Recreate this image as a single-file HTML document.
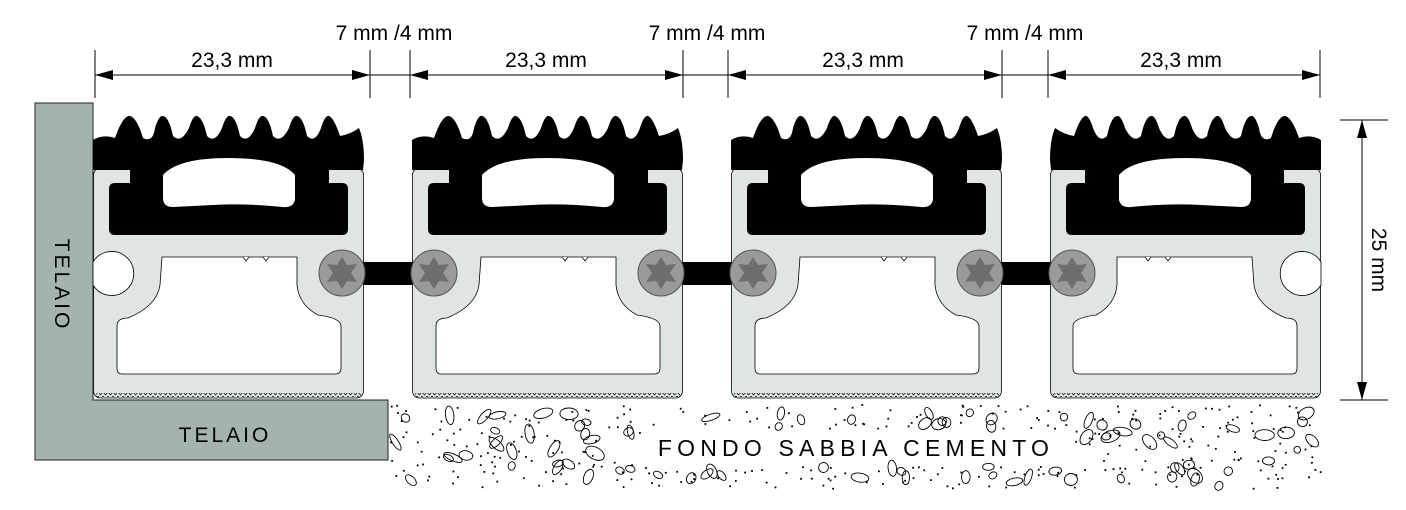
<!DOCTYPE html>
<html><head><meta charset="utf-8"><style>
html,body{margin:0;padding:0;background:#fff;}
svg{display:block;font-family:"Liberation Sans",Arial,sans-serif;}
</style></head><body>
<svg id="s" width="1406" height="510" viewBox="0 0 1406 510" xmlns="http://www.w3.org/2000/svg">
<defs>
  <pattern id="zig" width="5" height="4" patternUnits="userSpaceOnUse">
    <path d="M0 0 L2.5 3 L5 0" fill="none" stroke="#000" stroke-width="0.7"/>
  </pattern>
  <g id="prof">
    <rect x="0.5" y="168" width="270" height="230" rx="7" fill="#dfe6e1" stroke="#000" stroke-width="0.8"/>
    <rect x="3" y="393" width="265" height="4" fill="url(#zig)"/>
    <path d="M0 140 Q10 134 22 138 Q30 115 37 116 Q44 118 50 138 Q60 143 62 128 Q66 115 70 116 Q76 117 80 136 Q88 144 96 128 Q100 115 104 116 Q110 118 114 136 Q122 144 129 128 Q133 115 137 116 Q143 117 147 136 Q155 144 162 128 Q166 115 170 116 Q176 117 180 136 Q188 144 196 128 Q200 115 204 116 Q210 117 214 136 Q222 144 228 128 Q232 115 236 116 Q241 118 247 136 Q258 134 266 128 Q271 140 271 160 L270 170 L236 170 L236 183 L249 183 Q255 183 255 189 L255 229 Q255 235 249 235 L22 235 Q16 235 16 229 L16 189 Q16 183 22 183 L37 183 L37 170 L0 170 Z" fill="#000"/>
    <path d="M70 175 Q85 158 135 158 Q188 158 202 175 L202 200 Q200 208 190 207 Q150 203 120 205 L80 207 Q70 207 70 198 Z" fill="#fff"/>
    <path d="M69 257 L204 257 L204 285 Q206 305 225 315 Q248 318 248 326 L248 368 Q248 374 242 374 L29 374 Q24 374 24 368 L24 326 Q24 318 35 318 Q64 306 67 285 Z" fill="#fff" stroke="#000" stroke-width="0.8"/>
    <path d="M150 257 l3 4 l3 -4 M170 257 l3 4 l3 -4" fill="#fff" stroke="#000" stroke-width="0.8"/>
  </g>
  <g id="hole">
    <path d="M0 262 A22 22 0 1 1 0 285 Z" fill="#fff" stroke="#000" stroke-width="0.8"/>
  </g>
  <g id="screw">
    <circle cx="0" cy="273" r="23" fill="#9a9a9a" stroke="#555" stroke-width="1"/>
    <polygon points="0,257 5,265 15,264 9,273 15,282 5,281 0,289 -5,281 -15,282 -9,273 -15,264 -5,265" fill="#6e6e6e"/>
  </g>
</defs>

<g id="sand"></g>

<path d="M35 103 L93 103 L93 400 L388 400 L388 460 L35 460 Z" fill="#a5b3ae" stroke="#222" stroke-width="1"/>
<text x="225" y="442" font-size="21" text-anchor="middle" letter-spacing="3">TELAIO</text>
<text transform="translate(55,285) rotate(90)" font-size="21" text-anchor="middle" letter-spacing="3">TELAIO</text>

<rect x="362" y="262" width="52" height="23" fill="#000"/>
<rect x="681" y="262" width="52" height="23" fill="#000"/>
<rect x="999" y="262" width="54" height="23" fill="#000"/>

<g transform="translate(93,0)"><use href="#prof"/><use href="#hole" x="0"/><use href="#screw" x="249"/></g>
<g transform="translate(412,0)"><use href="#prof"/><use href="#screw" x="22"/><use href="#screw" x="249"/></g>
<g transform="translate(731,0)"><use href="#prof"/><use href="#screw" x="22"/><use href="#screw" x="249"/></g>
<g transform="translate(1321,0) scale(-1,1)"><use href="#prof"/><use href="#hole" x="0"/><use href="#screw" x="249"/></g>

<text x="856" y="456" font-size="23" text-anchor="middle" letter-spacing="5.2">FONDO SABBIA CEMENTO</text>

<g stroke="#000" stroke-width="1">
  <line x1="95" y1="75" x2="1320" y2="75"/>
  <line x1="95" y1="50" x2="95" y2="98"/>
  <line x1="370" y1="50" x2="370" y2="98"/>
  <line x1="410" y1="50" x2="410" y2="98"/>
  <line x1="683" y1="50" x2="683" y2="98"/>
  <line x1="728" y1="50" x2="728" y2="98"/>
  <line x1="1002" y1="50" x2="1002" y2="98"/>
  <line x1="1048" y1="50" x2="1048" y2="98"/>
  <line x1="1320" y1="50" x2="1320" y2="98"/>
  <line x1="1362" y1="120" x2="1362" y2="400"/>
  <line x1="1340" y1="120" x2="1388" y2="120"/>
  <line x1="1340" y1="400" x2="1388" y2="400"/>
</g>
<g fill="#000">
  <polygon points="95,75 113,70 113,80"/><polygon points="370,75 352,70 352,80"/>
  <polygon points="410,75 428,70 428,80"/><polygon points="683,75 665,70 665,80"/>
  <polygon points="728,75 746,70 746,80"/><polygon points="1002,75 984,70 984,80"/>
  <polygon points="1048,75 1066,70 1066,80"/><polygon points="1320,75 1302,70 1302,80"/>
  <polygon points="1362,120 1357,138 1367,138"/><polygon points="1362,400 1357,382 1367,382"/>
</g>
<g font-size="21" text-anchor="middle">
  <text x="232" y="67">23,3 mm</text>
  <text x="546" y="67">23,3 mm</text>
  <text x="863" y="67">23,3 mm</text>
  <text x="1181" y="67">23,3 mm</text>
  <text x="394" y="40">7 mm /4 mm</text>
  <text x="707" y="40">7 mm /4 mm</text>
  <text x="1025" y="40">7 mm /4 mm</text>
  <text transform="translate(1372,260) rotate(90)">25 mm</text>
</g>
</svg>
<script>
(function(){
  var g=document.getElementById('sand'),seed=11;
  function r(){seed=(seed*16807)%2147483647;return seed/2147483647;}
  function inText(x,y){return x>640&&x<1070&&y>428&&y<466;}
  var h='';
  for(var i=0;i<420;i++){var x=390+r()*930,y=404+r()*84;if(inText(x,y))continue;
    h+='<rect x="'+x.toFixed(1)+'" y="'+y.toFixed(1)+'" width="1.8" height="1.8" fill="#000"/>';}
  for(var j=0;j<120;j++){var x=395+r()*920,y=408+r()*78;if(inText(x,y))continue;
    var rx=3+r()*7,ry=3+r()*3,a=(r()*180).toFixed(0);
    h+='<ellipse cx="'+x.toFixed(1)+'" cy="'+y.toFixed(1)+'" rx="'+rx.toFixed(1)+'" ry="'+ry.toFixed(1)+'" transform="rotate('+a+' '+x.toFixed(1)+' '+y.toFixed(1)+')" fill="none" stroke="#000" stroke-width="0.9"/>';}
  g.innerHTML=h;
})();
</script>
</body></html>
